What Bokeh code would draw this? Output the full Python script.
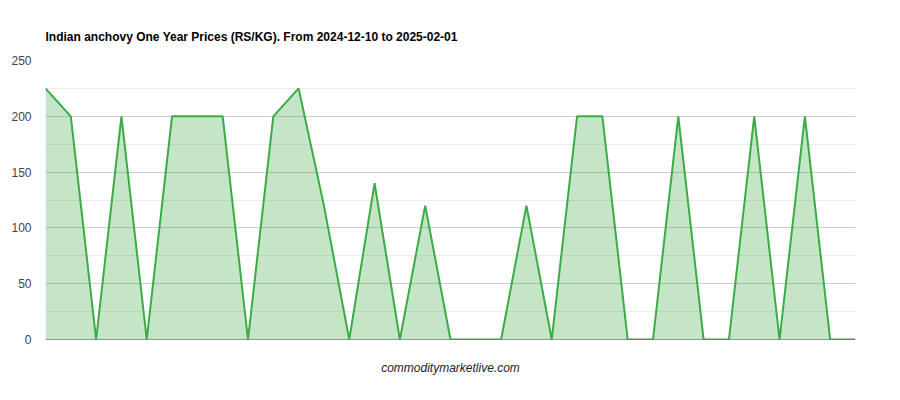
from bokeh.plotting import figure
from bokeh.models import Range1d, Span, Title, FixedTicker, ColumnDataSource
from bokeh.embed import file_html
from bokeh.resources import INLINE

# Data
point_index = list(range(33))
prices = [225, 200, 0, 200, 0, 200, 200, 200, 0, 200, 225, 120, 0, 140, 0, 120,
          0, 0, 0, 120, 0, 200, 200, 0, 0, 200, 0, 0, 200, 0, 200, 0, 0]
y_ticks = [0, 50, 100, 150, 200, 250]

title_text = "Indian anchovy One Year Prices (RS/KG). From 2024-12-10 to 2025-02-01"
source_text = "commoditymarketlive.com"

src = ColumnDataSource(dict(x=point_index, y=prices, base=[0] * len(prices)))

p = figure(width=885, height=395, output_backend="svg", toolbar_location=None,
           x_range=Range1d(0, len(point_index) - 1), y_range=Range1d(0, 250),
           min_border_left=45, min_border_right=30, min_border_top=60, min_border_bottom=56)
p.outline_line_color = None

p.title.text = title_text
p.title.text_font = "Liberation Sans"
p.title.text_font_size = "12px"
p.title.text_font_style = "bold"
p.title.text_color = "#000000"
p.title.align = "left"
p.title.offset = 0
p.title.standoff = 34

wm = Title(text=source_text, align="center", text_font="Liberation Sans",
           text_font_size="12px", text_font_style="italic", text_color="#222222",
           standoff=38)
p.add_layout(wm, "below")

p.varea(x="x", y1="base", y2="y", source=src, fill_color="#3bab45", fill_alpha=0.3)
p.line(x="x", y="y", source=src, line_color="#3bab45", line_width=2)

p.xaxis.visible = False
p.xgrid.visible = False

p.yaxis.ticker = FixedTicker(ticks=y_ticks, minor_ticks=[25, 75, 125, 175, 225])
p.yaxis.axis_line_color = None
p.yaxis.major_tick_line_color = None
p.yaxis.minor_tick_line_color = None
p.yaxis.major_label_text_font = "Liberation Sans"
p.yaxis.major_label_text_font_size = "12px"
p.yaxis.major_label_text_color = "#444444"
p.yaxis.major_label_standoff = 8

p.ygrid.grid_line_color = "#cccccc"
p.ygrid.grid_line_width = 1
p.ygrid.minor_grid_line_color = "#ebebeb"

p.add_layout(Span(location=0, dimension="width", line_color="#333333", line_width=1))

open("out.html", "w").write(file_html(p, INLINE))
